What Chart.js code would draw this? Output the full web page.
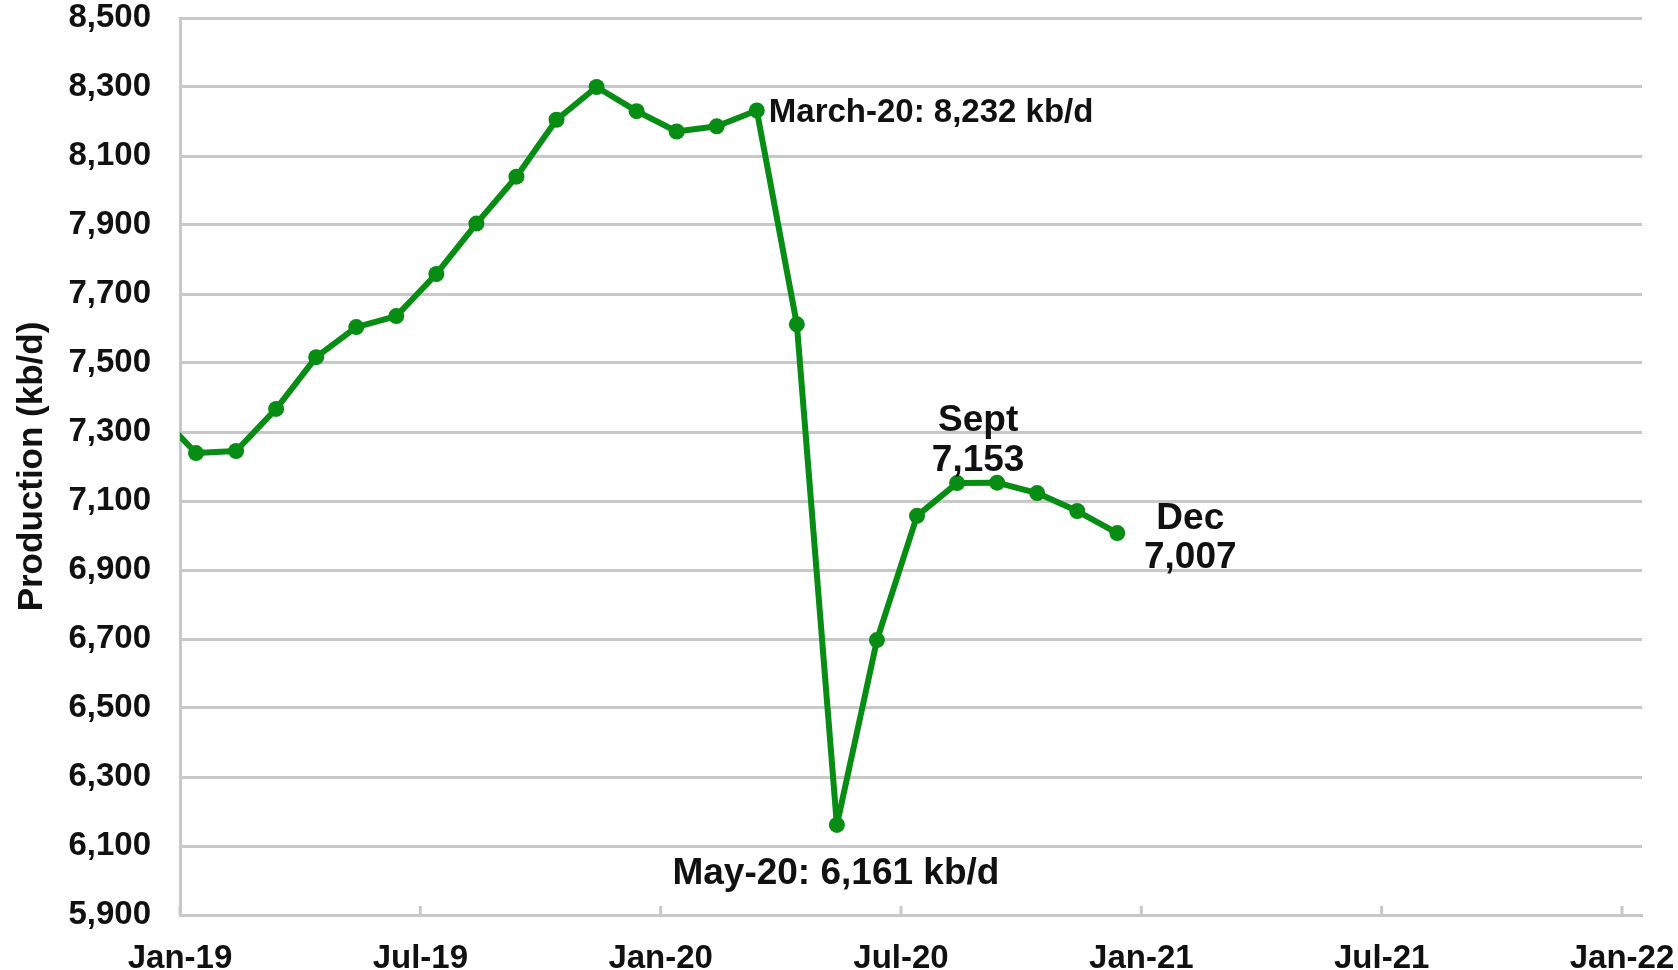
<!DOCTYPE html>
<html>
<head>
<meta charset="utf-8">
<script src="https://cdn.jsdelivr.net/npm/chart.js@4.4.0/dist/chart.umd.min.js"></script>
<style>
html, body { margin: 0; padding: 0; background: #fff; }
#wrap { width: 1678px; height: 970px; position: relative; }
</style>
</head>
<body>
<div id="wrap"><canvas id="production_chart"></canvas></div>
<script>
// monthly production, kb/d (Dec-18 is only partly visible, clipped at the axis)
const months = ['Dec-18', 'Jan-19', 'Feb-19', 'Mar-19', 'Apr-19', 'May-19', 'Jun-19',
    'Jul-19', 'Aug-19', 'Sep-19', 'Oct-19', 'Nov-19', 'Dec-19',
    'Jan-20', 'Feb-20', 'Mar-20', 'Apr-20', 'May-20', 'Jun-20',
    'Jul-20', 'Aug-20', 'Sep-20', 'Oct-20', 'Nov-20', 'Dec-20']
const production = [7360, 7239, 7245, 7367, 7517, 7604, 7636,
    7758, 7904, 8040, 8205, 8300, 8230,
    8171, 8186, 8232, 7612, 6161, 6697,
    7057, 7152, 7153, 7123, 7071, 7007]

const tickMonths = [0, 6, 12, 18, 24, 30, 36]
const tickLabels = ['Jan-19', 'Jul-19', 'Jan-20', 'Jul-20', 'Jan-21', 'Jul-21', 'Jan-22']

const MONTH_NAMES = ['Jan', 'Feb', 'Mar', 'Apr', 'May', 'Jun', 'Jul', 'Aug', 'Sep', 'Oct', 'Nov', 'Dec']
const MID_MONTH = 0.4   // points sit around the middle of their month

function monthIndex(label) {
    const [m, y] = label.split('-')
    return (parseInt(y) - 19) * 12 + MONTH_NAMES.indexOf(m)
}
const fmt = (v) => v.toLocaleString('en-US')
const valueOf = (m) => production[months.indexOf(m)]

const FONT = '"Liberation Sans", Arial, Helvetica, sans-serif'
const GREEN = '#078c14'
const GRID = '#c8c8c8'
const TEXT = '#111111'

// call-out texts, anchored on a data point
const notes = [
    { month: 'Mar-20', lines: ['March-20: ' + fmt(valueOf('Mar-20')) + ' kb/d'], size: 33, align: 'left', dx: 12, dy: [2] },
    { month: 'May-20', lines: ['May-20: ' + fmt(valueOf('May-20')) + ' kb/d'], size: 37, align: 'center', dx: -1, dy: [49] },
    { month: 'Sep-20', lines: ['Sept', fmt(valueOf('Sep-20'))], size: 37, align: 'center', dx: -19, dy: [-62, -22] },
    { month: 'Dec-20', lines: ['Dec', fmt(valueOf('Dec-20'))], size: 37, align: 'center', dx: 73, dy: [-14, 25] },
]

const notesPlugin = {
    id: 'notes',
    beforeDatasetsDraw(chart) {
        // small tick marks pointing up from the date axis
        const { ctx, chartArea, scales: { x } } = chart
        ctx.save()
        ctx.strokeStyle = GRID
        ctx.lineWidth = 3
        x.ticks.forEach((t) => {
            const px = x.getPixelForValue(t.value)
            ctx.beginPath()
            ctx.moveTo(px, chartArea.bottom)
            ctx.lineTo(px, chartArea.bottom - 9)
            ctx.stroke()
        })
        ctx.restore()
    },
    afterDatasetsDraw(chart) {
        const { ctx, scales: { x, y } } = chart
        ctx.save()
        ctx.fillStyle = TEXT
        ctx.textBaseline = 'middle'
        notes.forEach((n) => {
            const px = x.getPixelForValue(monthIndex(n.month) + MID_MONTH)
            const py = y.getPixelForValue(valueOf(n.month))
            ctx.font = 'bold ' + n.size + 'px ' + FONT
            ctx.textAlign = n.align
            n.lines.forEach((line, k) => ctx.fillText(line, px + n.dx, py + n.dy[k]))
        })
        ctx.restore()
    }
}

Chart.defaults.font.family = FONT
Chart.defaults.color = TEXT

const canvas = document.querySelector('#production_chart')

new Chart(canvas, {
    type: 'line',
    data: {
        datasets: [{
            data: months.map((m, i) => ({ x: monthIndex(m) + MID_MONTH, y: production[i] })),
            borderColor: GREEN,
            backgroundColor: GREEN,
            borderWidth: 6,
            borderJoinStyle: 'round',
            pointRadius: 8,
            pointBorderWidth: 0,
            pointBackgroundColor: GREEN,
            tension: 0,
            clip: { left: 0, right: 10, top: 10, bottom: 10 },
        }]
    },
    options: {
        responsive: true,
        maintainAspectRatio: false,
        animation: false,
        events: [],
        layout: {
            autoPadding: false,
            padding: { top: 18, right: 36, left: 0, bottom: 0 },
        },
        plugins: {
            legend: { display: false },
            tooltip: { enabled: false },
        },
        scales: {
            x: {
                type: 'linear',
                min: 0,
                max: 36.5,
                afterBuildTicks: (scale) => { scale.ticks = tickMonths.map((v) => ({ value: v })) },
                afterFit: (scale) => {
                    scale.height = 55
                    scale.paddingLeft = 0
                    scale.paddingRight = 0
                },
                ticks: {
                    autoSkip: false,
                    maxRotation: 0,
                    padding: 24,
                    color: TEXT,
                    font: { size: 33, weight: 'bold' },
                    callback: (v, i) => tickLabels[i],
                },
                grid: { display: false, drawTicks: false },
                border: { display: true, color: GRID, width: 3 },
            },
            y: {
                min: 5900,
                max: 8500,
                afterFit: (scale) => {
                    scale.width = 180
                    scale.paddingTop = 0
                    scale.paddingBottom = 0
                },
                ticks: {
                    stepSize: 200,
                    padding: 29,
                    color: TEXT,
                    font: { size: 33, weight: 'bold' },
                    callback: (v) => fmt(v),
                },
                grid: { color: GRID, lineWidth: 3, drawTicks: false },
                border: { display: true, color: GRID, width: 3 },
                title: {
                    display: true,
                    text: 'Production (kb/d)',
                    color: TEXT,
                    font: { size: 35, weight: 'bold' },
                    padding: { top: 11, bottom: 0 },
                },
            },
        },
    },
    plugins: [notesPlugin],
})
</script>
</body>
</html>
